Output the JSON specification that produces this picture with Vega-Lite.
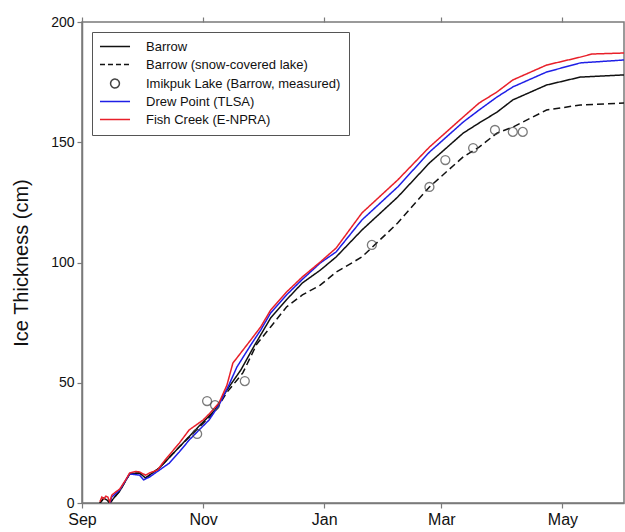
{
  "$schema": "https://vega.github.io/schema/vega-lite/v6.json",
  "width": 542,
  "height": 481,
  "autosize": {"type": "none"},
  "padding": {"left": 82, "top": 22, "right": 1, "bottom": 29},
  "background": "white",
  "config": {
    "font": "Liberation Sans",
    "view": {"stroke": "#7a7a7a", "strokeWidth": 1.5},
    "axis": {"domainColor": "#7a7a7a", "domainWidth": 1.5, "tickColor": "#7a7a7a", "tickWidth": 1.2, "tickSize": 5, "grid": false, "labelColor": "#111", "labelFont": "Liberation Sans", "titleFont": "Liberation Sans", "titleColor": "#111", "titleFontWeight": "normal"}
  },
  "datasets": {
    "lines": [
      {"series": "Barrow", "date": "2010-09-10", "cm": 0},
      {"series": "Barrow", "date": "2010-09-12", "cm": 2},
      {"series": "Barrow", "date": "2010-09-14", "cm": 1},
      {"series": "Barrow", "date": "2010-09-15", "cm": 0},
      {"series": "Barrow", "date": "2010-09-20", "cm": 5.0},
      {"series": "Barrow", "date": "2010-09-25", "cm": 12.1},
      {"series": "Barrow", "date": "2010-09-30", "cm": 12.5},
      {"series": "Barrow", "date": "2010-10-03", "cm": 10.4},
      {"series": "Barrow", "date": "2010-10-10", "cm": 14.6},
      {"series": "Barrow", "date": "2010-10-20", "cm": 23.3},
      {"series": "Barrow", "date": "2010-10-30", "cm": 32.0},
      {"series": "Barrow", "date": "2010-11-07", "cm": 38.7},
      {"series": "Barrow", "date": "2010-11-13", "cm": 47.0},
      {"series": "Barrow", "date": "2010-11-20", "cm": 55.3},
      {"series": "Barrow", "date": "2010-11-27", "cm": 65.7},
      {"series": "Barrow", "date": "2010-12-05", "cm": 76.9},
      {"series": "Barrow", "date": "2010-12-13", "cm": 84.5},
      {"series": "Barrow", "date": "2010-12-21", "cm": 91.5},
      {"series": "Barrow", "date": "2010-12-30", "cm": 96.8},
      {"series": "Barrow", "date": "2011-01-07", "cm": 102.3},
      {"series": "Barrow", "date": "2011-01-20", "cm": 113.5},
      {"series": "Barrow", "date": "2011-02-07", "cm": 127.2},
      {"series": "Barrow", "date": "2011-02-23", "cm": 141.4},
      {"series": "Barrow", "date": "2011-03-12", "cm": 153.8},
      {"series": "Barrow", "date": "2011-03-20", "cm": 158.0},
      {"series": "Barrow", "date": "2011-03-29", "cm": 162.5},
      {"series": "Barrow", "date": "2011-04-06", "cm": 167.6},
      {"series": "Barrow", "date": "2011-04-23", "cm": 173.8},
      {"series": "Barrow", "date": "2011-05-10", "cm": 177.1},
      {"series": "Barrow", "date": "2011-06-01", "cm": 178.0},

      {"series": "Barrow (snow-covered lake)", "date": "2010-09-10", "cm": 0},
      {"series": "Barrow (snow-covered lake)", "date": "2010-09-12", "cm": 2},
      {"series": "Barrow (snow-covered lake)", "date": "2010-09-14", "cm": 1},
      {"series": "Barrow (snow-covered lake)", "date": "2010-09-15", "cm": 0},
      {"series": "Barrow (snow-covered lake)", "date": "2010-09-20", "cm": 5.0},
      {"series": "Barrow (snow-covered lake)", "date": "2010-09-25", "cm": 12.1},
      {"series": "Barrow (snow-covered lake)", "date": "2010-09-30", "cm": 12.5},
      {"series": "Barrow (snow-covered lake)", "date": "2010-10-03", "cm": 10.4},
      {"series": "Barrow (snow-covered lake)", "date": "2010-10-10", "cm": 14.6},
      {"series": "Barrow (snow-covered lake)", "date": "2010-10-20", "cm": 23.3},
      {"series": "Barrow (snow-covered lake)", "date": "2010-10-30", "cm": 31.5},
      {"series": "Barrow (snow-covered lake)", "date": "2010-11-07", "cm": 38.0},
      {"series": "Barrow (snow-covered lake)", "date": "2010-11-13", "cm": 46.0},
      {"series": "Barrow (snow-covered lake)", "date": "2010-11-21", "cm": 54.1},
      {"series": "Barrow (snow-covered lake)", "date": "2010-11-28", "cm": 66.0},
      {"series": "Barrow (snow-covered lake)", "date": "2010-12-05", "cm": 73.2},
      {"series": "Barrow (snow-covered lake)", "date": "2010-12-13", "cm": 81.5},
      {"series": "Barrow (snow-covered lake)", "date": "2010-12-21", "cm": 86.5},
      {"series": "Barrow (snow-covered lake)", "date": "2010-12-30", "cm": 90.6},
      {"series": "Barrow (snow-covered lake)", "date": "2011-01-07", "cm": 96.0},
      {"series": "Barrow (snow-covered lake)", "date": "2011-01-20", "cm": 102.3},
      {"series": "Barrow (snow-covered lake)", "date": "2011-02-07", "cm": 116.4},
      {"series": "Barrow (snow-covered lake)", "date": "2011-02-23", "cm": 131.4},
      {"series": "Barrow (snow-covered lake)", "date": "2011-03-12", "cm": 143.9},
      {"series": "Barrow (snow-covered lake)", "date": "2011-03-20", "cm": 148.0},
      {"series": "Barrow (snow-covered lake)", "date": "2011-03-29", "cm": 153.8},
      {"series": "Barrow (snow-covered lake)", "date": "2011-04-06", "cm": 156.3},
      {"series": "Barrow (snow-covered lake)", "date": "2011-04-23", "cm": 163.4},
      {"series": "Barrow (snow-covered lake)", "date": "2011-05-10", "cm": 165.5},
      {"series": "Barrow (snow-covered lake)", "date": "2011-06-01", "cm": 166.3},

      {"series": "Drew Point (TLSA)", "date": "2010-09-15", "cm": 0},
      {"series": "Drew Point (TLSA)", "date": "2010-09-16", "cm": 2.5},
      {"series": "Drew Point (TLSA)", "date": "2010-09-20", "cm": 5.4},
      {"series": "Drew Point (TLSA)", "date": "2010-09-25", "cm": 12.1},
      {"series": "Drew Point (TLSA)", "date": "2010-09-30", "cm": 11.6},
      {"series": "Drew Point (TLSA)", "date": "2010-10-02", "cm": 9.6},
      {"series": "Drew Point (TLSA)", "date": "2010-10-05", "cm": 10.8},
      {"series": "Drew Point (TLSA)", "date": "2010-10-10", "cm": 13.7},
      {"series": "Drew Point (TLSA)", "date": "2010-10-15", "cm": 16.6},
      {"series": "Drew Point (TLSA)", "date": "2010-10-20", "cm": 21.2},
      {"series": "Drew Point (TLSA)", "date": "2010-10-25", "cm": 26.2},
      {"series": "Drew Point (TLSA)", "date": "2010-10-30", "cm": 30.4},
      {"series": "Drew Point (TLSA)", "date": "2010-11-04", "cm": 34.5},
      {"series": "Drew Point (TLSA)", "date": "2010-11-09", "cm": 40.7},
      {"series": "Drew Point (TLSA)", "date": "2010-11-14", "cm": 49.1},
      {"series": "Drew Point (TLSA)", "date": "2010-11-18", "cm": 56.5},
      {"series": "Drew Point (TLSA)", "date": "2010-11-25", "cm": 65.7},
      {"series": "Drew Point (TLSA)", "date": "2010-11-30", "cm": 71.9},
      {"series": "Drew Point (TLSA)", "date": "2010-12-05", "cm": 79.0},
      {"series": "Drew Point (TLSA)", "date": "2010-12-13", "cm": 86.5},
      {"series": "Drew Point (TLSA)", "date": "2010-12-21", "cm": 93.0},
      {"series": "Drew Point (TLSA)", "date": "2010-12-30", "cm": 99.8},
      {"series": "Drew Point (TLSA)", "date": "2011-01-07", "cm": 104.4},
      {"series": "Drew Point (TLSA)", "date": "2011-01-20", "cm": 117.7},
      {"series": "Drew Point (TLSA)", "date": "2011-02-07", "cm": 131.4},
      {"series": "Drew Point (TLSA)", "date": "2011-02-23", "cm": 145.9},
      {"series": "Drew Point (TLSA)", "date": "2011-03-12", "cm": 158.4},
      {"series": "Drew Point (TLSA)", "date": "2011-03-20", "cm": 163.4},
      {"series": "Drew Point (TLSA)", "date": "2011-03-29", "cm": 168.8},
      {"series": "Drew Point (TLSA)", "date": "2011-04-06", "cm": 173.0},
      {"series": "Drew Point (TLSA)", "date": "2011-04-23", "cm": 179.2},
      {"series": "Drew Point (TLSA)", "date": "2011-05-10", "cm": 183.0},
      {"series": "Drew Point (TLSA)", "date": "2011-06-01", "cm": 184.2},

      {"series": "Fish Creek (E-NPRA)", "date": "2010-09-10", "cm": 0.5},
      {"series": "Fish Creek (E-NPRA)", "date": "2010-09-11", "cm": 2.5},
      {"series": "Fish Creek (E-NPRA)", "date": "2010-09-12", "cm": 1.7},
      {"series": "Fish Creek (E-NPRA)", "date": "2010-09-13", "cm": 2.8},
      {"series": "Fish Creek (E-NPRA)", "date": "2010-09-14", "cm": 2.5},
      {"series": "Fish Creek (E-NPRA)", "date": "2010-09-15", "cm": 0.4},
      {"series": "Fish Creek (E-NPRA)", "date": "2010-09-16", "cm": 3.3},
      {"series": "Fish Creek (E-NPRA)", "date": "2010-09-18", "cm": 4.6},
      {"series": "Fish Creek (E-NPRA)", "date": "2010-09-20", "cm": 5.8},
      {"series": "Fish Creek (E-NPRA)", "date": "2010-09-23", "cm": 9.6},
      {"series": "Fish Creek (E-NPRA)", "date": "2010-09-25", "cm": 12.5},
      {"series": "Fish Creek (E-NPRA)", "date": "2010-09-28", "cm": 13.1},
      {"series": "Fish Creek (E-NPRA)", "date": "2010-09-30", "cm": 12.9},
      {"series": "Fish Creek (E-NPRA)", "date": "2010-10-03", "cm": 11.6},
      {"series": "Fish Creek (E-NPRA)", "date": "2010-10-05", "cm": 12.5},
      {"series": "Fish Creek (E-NPRA)", "date": "2010-10-09", "cm": 13.7},
      {"series": "Fish Creek (E-NPRA)", "date": "2010-10-12", "cm": 17.0},
      {"series": "Fish Creek (E-NPRA)", "date": "2010-10-15", "cm": 20.0},
      {"series": "Fish Creek (E-NPRA)", "date": "2010-10-20", "cm": 24.9},
      {"series": "Fish Creek (E-NPRA)", "date": "2010-10-25", "cm": 30.4},
      {"series": "Fish Creek (E-NPRA)", "date": "2010-11-01", "cm": 34.5},
      {"series": "Fish Creek (E-NPRA)", "date": "2010-11-04", "cm": 37.0},
      {"series": "Fish Creek (E-NPRA)", "date": "2010-11-09", "cm": 41.6},
      {"series": "Fish Creek (E-NPRA)", "date": "2010-11-13", "cm": 49.0},
      {"series": "Fish Creek (E-NPRA)", "date": "2010-11-16", "cm": 58.2},
      {"series": "Fish Creek (E-NPRA)", "date": "2010-11-18", "cm": 60.3},
      {"series": "Fish Creek (E-NPRA)", "date": "2010-11-25", "cm": 67.8},
      {"series": "Fish Creek (E-NPRA)", "date": "2010-11-30", "cm": 73.2},
      {"series": "Fish Creek (E-NPRA)", "date": "2010-12-05", "cm": 80.2},
      {"series": "Fish Creek (E-NPRA)", "date": "2010-12-13", "cm": 87.7},
      {"series": "Fish Creek (E-NPRA)", "date": "2010-12-21", "cm": 94.0},
      {"series": "Fish Creek (E-NPRA)", "date": "2010-12-30", "cm": 100.2},
      {"series": "Fish Creek (E-NPRA)", "date": "2011-01-07", "cm": 106.0},
      {"series": "Fish Creek (E-NPRA)", "date": "2011-01-20", "cm": 120.6},
      {"series": "Fish Creek (E-NPRA)", "date": "2011-02-07", "cm": 134.3},
      {"series": "Fish Creek (E-NPRA)", "date": "2011-02-23", "cm": 148.0},
      {"series": "Fish Creek (E-NPRA)", "date": "2011-03-12", "cm": 160.5},
      {"series": "Fish Creek (E-NPRA)", "date": "2011-03-20", "cm": 166.3},
      {"series": "Fish Creek (E-NPRA)", "date": "2011-03-29", "cm": 170.9},
      {"series": "Fish Creek (E-NPRA)", "date": "2011-04-06", "cm": 175.9},
      {"series": "Fish Creek (E-NPRA)", "date": "2011-04-23", "cm": 182.1},
      {"series": "Fish Creek (E-NPRA)", "date": "2011-05-10", "cm": 185.4},
      {"series": "Fish Creek (E-NPRA)", "date": "2011-05-16", "cm": 186.7},
      {"series": "Fish Creek (E-NPRA)", "date": "2011-06-01", "cm": 187.1}
    ],
    "pts": [
      {"series": "Imikpuk Lake (Barrow, measured)", "date": "2010-10-29", "cm": 28.7},
      {"series": "Imikpuk Lake (Barrow, measured)", "date": "2010-11-03", "cm": 42.4},
      {"series": "Imikpuk Lake (Barrow, measured)", "date": "2010-11-07", "cm": 40.7},
      {"series": "Imikpuk Lake (Barrow, measured)", "date": "2010-11-22", "cm": 50.7},
      {"series": "Imikpuk Lake (Barrow, measured)", "date": "2011-01-25", "cm": 107.3},
      {"series": "Imikpuk Lake (Barrow, measured)", "date": "2011-02-23", "cm": 131.4},
      {"series": "Imikpuk Lake (Barrow, measured)", "date": "2011-03-03", "cm": 142.6},
      {"series": "Imikpuk Lake (Barrow, measured)", "date": "2011-03-17", "cm": 147.6},
      {"series": "Imikpuk Lake (Barrow, measured)", "date": "2011-03-28", "cm": 155.1},
      {"series": "Imikpuk Lake (Barrow, measured)", "date": "2011-04-06", "cm": 154.3},
      {"series": "Imikpuk Lake (Barrow, measured)", "date": "2011-04-11", "cm": 154.3}
    ]
  },
  "resolve": {"axis": {"x": "independent"}},
  "layer": [
    {
      "data": {"name": "lines"},
      "mark": {"type": "line", "strokeWidth": 1.5, "clip": true},
      "encoding": {
        "x": {
          "field": "date", "type": "temporal",
          "scale": {"type": "utc", "domain": [{"year": 2010, "month": 9, "date": 1, "utc": true}, {"year": 2011, "month": 6, "date": 1, "utc": true}]},
          "axis": {
            "orient": "bottom", "title": null, "format": "%b", "labelFontSize": 16, "labelPadding": 3, "labelFlush": false,
            "values": [
              {"year": 2010, "month": 9, "date": 1, "utc": true},
              {"year": 2010, "month": 11, "date": 1, "utc": true},
              {"year": 2011, "month": 1, "date": 1, "utc": true},
              {"year": 2011, "month": 3, "date": 1, "utc": true},
              {"year": 2011, "month": 5, "date": 1, "utc": true}
            ]
          }
        },
        "y": {
          "field": "cm", "type": "quantitative",
          "scale": {"domain": [0, 200], "nice": false, "zero": true},
          "axis": {"values": [0, 50, 100, 150, 200], "title": "Ice Thickness (cm)", "titleFontSize": 20, "labelFontSize": 14, "titlePadding": 19, "labelPadding": 3, "labelFlush": false}
        },
        "color": {
          "field": "series", "type": "nominal",
          "scale": {
            "domain": ["Barrow", "Barrow (snow-covered lake)", "Imikpuk Lake (Barrow, measured)", "Drew Point (TLSA)", "Fish Creek (E-NPRA)"],
            "range": ["#111111", "#111111", "#444444", "#1f1fe6", "#e8202a"]
          },
          "legend": {
            "title": null, "orient": "top-left", "offset": 10, "padding": 8,
            "strokeColor": "#555555", "fillColor": "white",
            "labelFontSize": 13, "labelColor": "#111", "labelLimit": 400, "labelOffset": 33, "symbolSize": 121, "symbolStrokeWidth": 1.5, "rowPadding": 4,
            "encode": {
              "symbols": {
                "update": {
                  "x": {"value": 15},
                  "shape": {"signal": "datum.value === 'Imikpuk Lake (Barrow, measured)' ? 'M0.8,0A0.8,0.8,0,1,1,-0.8,0A0.8,0.8,0,1,1,0.8,0Z' : 'M-2.73,0L2.73,0'"},
                  "strokeDash": {"signal": "datum.value === 'Barrow (snow-covered lake)' ? [5, 3] : [1, 0]"},
                  "fill": {"value": "transparent"}
                }
              }
            }
          }
        },
        "strokeDash": {
          "field": "series", "type": "nominal",
          "scale": {
            "domain": ["Barrow", "Barrow (snow-covered lake)", "Drew Point (TLSA)", "Fish Creek (E-NPRA)"],
            "range": [[1, 0], [7, 4], [1, 0], [1, 0]]
          },
          "legend": null
        }
      }
    },
    {
      "data": {"name": "pts"},
      "mark": {"type": "point", "shape": "circle", "filled": false, "size": 80, "strokeWidth": 1.3},
      "encoding": {
        "x": {
          "field": "date", "type": "temporal",
          "axis": {
            "orient": "top", "title": null, "labels": false, "domain": false,
            "values": [
              {"year": 2010, "month": 9, "date": 1, "utc": true},
              {"year": 2010, "month": 11, "date": 1, "utc": true},
              {"year": 2011, "month": 1, "date": 1, "utc": true},
              {"year": 2011, "month": 3, "date": 1, "utc": true},
              {"year": 2011, "month": 5, "date": 1, "utc": true}
            ]
          }
        },
        "y": {"field": "cm", "type": "quantitative"},
        "color": {"field": "series", "type": "nominal"}
      }
    }
  ]
}
